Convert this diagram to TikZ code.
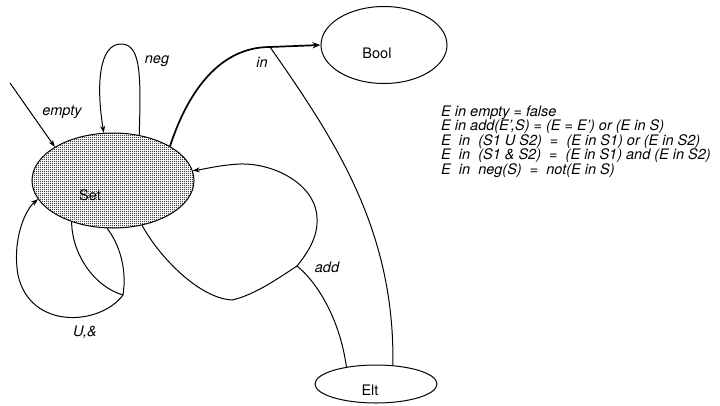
\documentclass[tikz,border=0pt]{standalone}
\usepackage{fontspec}
\setmainfont{TeX Gyre Heros}
\usetikzlibrary{shapes.geometric,arrows.meta,patterns.meta}
\tikzdeclarepattern{
  name=stipple,
  type=uncolored,
  bounding box={(0,0) and (2pt,2pt)},
  tile size={(2pt,2pt)},
  code={\fill (1pt,1pt) circle (0.82pt);}
}
\begin{document}
\begin{tikzpicture}[x=1pt,y=-1pt,
  every node/.style={font=\fontsize{14.5}{14.5}\selectfont},
  stateshape/.style={ellipse,draw,line width=1pt,inner sep=0pt},
  conn/.style={line width=1pt},
  arr/.style={line width=1pt,-{Stealth[length=7pt,width=5pt]}},
  thickarr/.style={line width=1.7pt,-{Stealth[length=8pt,width=6pt]}},
  lbl/.style={font=\fontsize{14.5}{14.5}\selectfont\itshape},
  eqn/.style={anchor=base west,inner sep=0pt,font=\fontsize{14.5}{14.5}\selectfont\itshape}
]
\path[use as bounding box] (0,0) rectangle (720,405);

% states
\node[stateshape,pattern={stipple},pattern color=black,minimum width=162pt,minimum height=95pt] (set) at (113,180.5) {};
\node[stateshape,minimum width=126pt,minimum height=77pt] (bool) at (384,45) {};
\node[stateshape,minimum width=122pt,minimum height=38pt] (elt) at (376,384) {};
\node (setlabel) at (90,195) {Set};
\node (boollabel) at (377,53) {Bool};
\node (eltlabel) at (370,390) {Elt};

% junctions
\coordinate (emptysrc) at (10,83);
\coordinate (inj) at (270,47);
\coordinate (addj) at (297,266);
\coordinate (uj) at (123,295);

% empty
\draw[arr] (emptysrc) -- (set.150);
\node[lbl] (emptylabel) at (62,112) {empty};

% neg loop
\draw[arr] (set.60) .. controls (141,75) and (141,44) .. (121,44)
  .. controls (99,44) and (96,85) .. (set.101);
\node[lbl] (neglabel) at (157,61) {neg};

% in
\draw[line width=1.7pt] (set.31.5) .. controls (185,100) and (215,47) .. (inj);
\draw[thickarr] (inj) -- (bool.west);
\draw[conn] (inj) .. controls (335,140) and (395,230) .. (elt.48);
\node[lbl] (inlabel) at (262,62) {in};

% add
\draw[conn] (elt.150) .. controls (340,320) and (318,283) .. (addj);
\draw[arr] (addj) .. controls (310,250) and (318,235) .. (317,218)
  .. controls (316,185) and (275,163) .. (240,164)
  .. controls (220,165) and (205,169) .. (set.7);
\draw[conn] (addj) .. controls (280,277) and (255,295) .. (232,300)
  .. controls (198,298) and (158,255) .. (set.303);
\node[lbl] (addlabel) at (327,267) {add};

% U,& loop
\draw[arr] (uj) .. controls (100,326) and (30,330) .. (18,275)
  .. controls (12,240) and (25,210) .. (set.194);
\draw[conn] (set.225) .. controls (72,255) and (95,287) .. (uj);
\draw[conn] (set.263) .. controls (120,245) and (127,270) .. (uj);
\node[lbl] (ulabel) at (85,332) {U,\&};

% equations
\node[eqn] (eq1) at (441,116) {E in empty = false};
\node[eqn] (eq2) at (441,130.5) {E in add(E',S) = (E = E') or (E in S)};
\node[eqn] (eq3) at (441,145) {E\ \ in\ \ (S1 U S2)\ \ =\ \ (E in S1) or (E in S2)};
\node[eqn] (eq4) at (441,159.5) {E\ \ in\ \ (S1 \& S2)\ \ =\ \ (E in S1) and (E in S2)};
\node[eqn] (eq5) at (441,174) {E\ \ in\ \ neg(S)\ \ =\ \ not(E in S)};
\end{tikzpicture}
\end{document}
